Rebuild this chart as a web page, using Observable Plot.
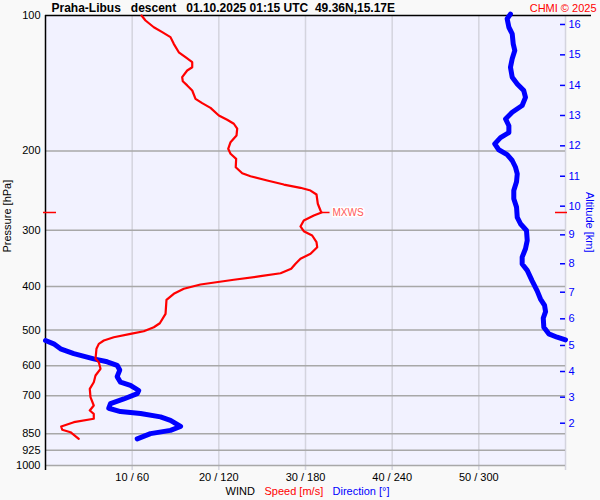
<!DOCTYPE html>
<html><head><meta charset="utf-8">
<script src="https://cdn.jsdelivr.net/npm/d3@7"></script>
<script src="https://cdn.jsdelivr.net/npm/@observablehq/plot@0.6"></script>
<style>body{margin:0;background:#f9f9f9;} #chart svg{display:block;}</style>
</head><body><div id="chart"></div>
<script>
// Wind speed profile (pressure hPa, speed m/s)
const speedPressure = [100,102.6,106.2,108.9,111.7,115.6,120.7,123.8,127.0,130.3,132.5,137.1,140.0,143.0,146.8,153.2,156.6,160.4,166.8,170.5,174.0,178.5,184.8,191.2,197.8,202.9,208.2,217.4,224.2,227.6,232.7,237.5,241.5,244.9,249.9,262.0,271.2,274.0,278.3,285.4,294.3,301.5,308.2,318.9,327.2,338.5,347.3,356.2,365.5,373.9,379.6,386.6,396.1,404.9,415.5,428.4,460.2,482.9,492.9,503.1,509.8,518.7,527.6,536.6,550.5,579.4,589.4,609.8,631.0,653.0,675.5,705.0,735.6,754.6,767.5,787.4,801.3,819.0,832.9,843.3,872.3];
const speedMs = [11.08,11.54,12.50,13.47,14.42,14.80,15.38,16.15,16.93,16.93,16.35,15.77,15.84,16.35,16.93,17.31,18.08,19.04,20.00,20.96,21.73,22.12,22.04,21.35,21.08,21.35,22.0,21.95,22.7,23.65,25.58,27.5,29.42,30.58,31.27,31.42,31.73,31.85,30.96,29.8,29.42,29.8,30.77,31.27,31.35,30.58,29.42,28.85,28.35,27.12,24.81,21.73,17.88,15.96,14.80,13.96,13.85,13.19,12.50,11.34,9.81,7.88,6.73,6.15,5.88,5.77,6.15,6.35,5.77,5.57,5.11,5.19,5.57,5.11,5.57,5.57,3.27,1.81,1.93,2.88,3.84];

// Wind direction profile (pressure hPa, direction deg)
const dirPressure = [99.3,101.7,106.2,109.8,115.6,119.6,124.8,130.3,137.1,141.9,146.8,152.0,158.5,164.1,169.8,175.8,182.0,186.8,192.9,198.8,203.8,210.0,217.4,224.9,234.2,244.9,255.5,266.6,281.1,290.2,300.5,316.2,329.8,344.3,356.6,368.4,388.7,409.3,426.7,440.8,455.2,470.3,492.9,509.8,518.7,525.7,527.6,536.6,550.5,564.0,579.4,588.2,598.8,613.6,634.6,653.0,663.3,681.3,692.5,711.5,728.6,746.0,758.9,766.6,779.6,793.6,819.0,835.5,849.5,872.3];
const dirDeg = [321.9,319.6,320.8,323.1,323.8,324.9,323.1,321.9,323.1,326.6,331.1,332.3,330.0,323.1,318.5,320.8,320.8,315.0,311.0,313.8,319.6,323.1,325.4,326.6,326.1,324.2,324.2,326.1,326.6,328.8,333.0,333.5,332.3,330.0,330.0,333.5,336.9,340.4,342.7,345.5,346.2,344.6,345.0,348.4,354.2,360,0,5.7,10.4,19.6,33.4,42.7,49.6,51.4,49.6,51.9,58.8,64.6,63.5,54.2,45.0,43.8,51.9,65.8,79.6,86.5,93.5,86.5,72.7,63.5];

const pressureTicks = [100,200,300,400,500,600,700,850,925,1000];
const windTicks = [10,20,30,40,50];
const altitudeKm = [2,3,4,5,6,7,8,9,10,11,12,13,14,15,16];
const altitudePressure = [805.4,705.0,618.2,541.1,472.1,412.0,356.2,307.2,265.3,227.6,194.8,166.8,143.0,122.3,104.7];

const titleText = "Praha-Libus\u00a0\u00a0\u00a0descent\u00a0\u00a0\u00a001.10.2025 01:15 UTC\u00a0\u00a049.36N,15.17E";

const speedData = speedPressure.map((p, i) => ({p, v: speedMs[i]}));
let seg = 0;
const dirData = dirPressure.map((p, i) => {
  if (i > 0 && Math.abs(dirDeg[i] - dirDeg[i - 1]) > 180) seg++;
  return {p, d: dirDeg[i], seg};
});
const mx = speedData[d3.maxIndex(speedMs)];
const hline = {draw(ctx, size) { const r = Math.sqrt(size / Math.PI); ctx.moveTo(-r, 0); ctx.lineTo(r, 0); }};

const chart = Plot.plot({
  width: 600, height: 500,
  marginLeft: 45, marginRight: 35, marginTop: 15, marginBottom: 35,
  style: {background: "#f9f9f9", fontFamily: "'Liberation Sans', Arial, sans-serif", fontSize: "11px", overflow: "visible", color: "black"},
  x: {domain: [0, 60], axis: null},
  y: {type: "log", domain: [100, 1000], reverse: true, axis: null},
  marks: [
    Plot.frame({fill: "#f2f2ff", stroke: null}),
    Plot.gridX(windTicks.concat([60]), {stroke: "#d4d4de", strokeOpacity: 1, strokeWidth: 1.5, insetBottom: -5}),
    Plot.gridY(pressureTicks.slice(1), {stroke: "#a8a8a8", strokeOpacity: 1, strokeWidth: 1.5}),
    Plot.ruleY([100], {stroke: "black", strokeWidth: 1.5, insetRight: -26}),
    Plot.ruleX([0], {stroke: "black", strokeWidth: 1.5, insetBottom: -5}),
    Plot.axisY(pressureTicks, {anchor: "left", tickSize: 0, tickPadding: 5, label: null, tickFormat: d => String(d), fill: "black", fontSize: 11}),
    Plot.axisX(windTicks, {anchor: "bottom", tickSize: 0, tickPadding: 8, label: null, tickFormat: d => `${d} / ${d * 6}`, fill: "black", fontSize: 11}),
    // altitude axis
    Plot.ruleY(altitudePressure, {stroke: "blue", strokeWidth: 1.5, insetLeft: 515}),
    Plot.text(altitudePressure, {y: d => d, frameAnchor: "right", dx: 3, textAnchor: "start", lineAnchor: "middle", text: (d, i) => String(altitudeKm[i]), fill: "blue", fontSize: 11}),
    Plot.text(["Altitude [km]"], {text: d => d, frameAnchor: "right", lineAnchor: "middle", rotate: 90, dx: 24, dy: 12, fill: "blue", fontSize: 11}),
    Plot.text(["Pressure [hPa]"], {text: d => d, frameAnchor: "left", lineAnchor: "middle", rotate: -90, dx: -38, dy: 12, fill: "black", fontSize: 11}),
    // MXWS markers on axes
    Plot.ruleY([mx.p], {stroke: "red", strokeWidth: 1.5, insetLeft: -2, insetRight: 509}),
    Plot.ruleY([mx.p], {stroke: "red", strokeWidth: 1.5, insetLeft: 510, insetRight: -2}),
    // profiles
    Plot.line(dirData, {x: d => d.d / 6, y: "p", z: "seg", stroke: "blue", strokeWidth: 5, strokeLinecap: "round", strokeLinejoin: "round"}),
    Plot.line(speedData, {x: "v", y: "p", stroke: "red", strokeWidth: 2.2}),
    Plot.dot([mx], {x: "v", y: "p", symbol: hline, r: 4, dx: 4, stroke: "red", strokeWidth: 1.5}),
    Plot.text([mx], {x: "v", y: "p", text: () => "MXWS", dx: 11, textAnchor: "start", lineAnchor: "middle", fill: "#ff5a5a", fontSize: 10, stroke: "white", strokeWidth: 3}),
    // titles
    Plot.text([titleText], {text: d => d, frameAnchor: "top-left", lineAnchor: "middle", dx: 6, dy: -7, textAnchor: "start", fontSize: 12, fontWeight: "bold", fill: "black"}),
    Plot.text(["CHMI © 2025"], {text: d => d, frameAnchor: "top-right", lineAnchor: "middle", dx: 31, dy: -7, textAnchor: "end", fontSize: 11, fill: "red"}),
    // bottom legend
    Plot.text(["WIND"], {text: d => d, frameAnchor: "bottom-left", lineAnchor: "middle", dx: 180, dy: 26, textAnchor: "start", fill: "black", fontSize: 11}),
    Plot.text(["Speed [m/s]"], {text: d => d, frameAnchor: "bottom-left", lineAnchor: "middle", dx: 219, dy: 26, textAnchor: "start", fill: "red", fontSize: 11}),
    Plot.text(["Direction [°]"], {text: d => d, frameAnchor: "bottom-left", lineAnchor: "middle", dx: 287, dy: 26, textAnchor: "start", fill: "blue", fontSize: 11})
  ]
});
document.getElementById("chart").appendChild(chart);
</script>
</body></html>
